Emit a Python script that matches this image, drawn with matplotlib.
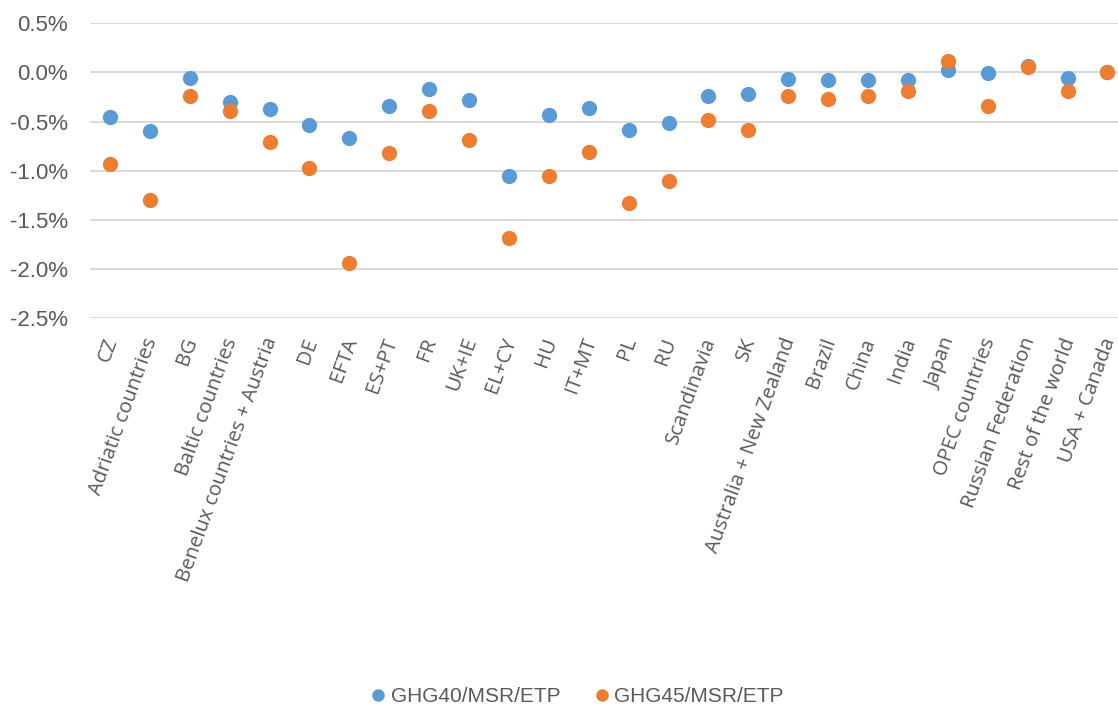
import matplotlib.pyplot as plt
from matplotlib import font_manager as fm
from matplotlib.lines import Line2D
from matplotlib.ticker import FuncFormatter
from matplotlib.transforms import ScaledTranslation
import numpy as np

plt.rcParams['font.family'] = ['Liberation Sans', 'DejaVu Sans']

# categories and values (in %)
labels = ['CZ', 'Adriatic countries', 'BG', 'Baltic countries', 'Benelux countries + Austria',
          'DE', 'EFTA', 'ES+PT', 'FR', 'UK+IE', 'EL+CY', 'HU', 'IT+MT', 'PL', 'RU',
          'Scandinavia', 'SK', 'Australia + New Zealand', 'Brazil', 'China', 'India',
          'Japan', 'OPEC countries', 'Russian Federation', 'Rest of the world', 'USA + Canada']
ghg40 = [-0.45, -0.60, -0.06, -0.30, -0.376, -0.535, -0.67, -0.34, -0.17, -0.28, -1.05,
         -0.434, -0.366, -0.583, -0.515, -0.238, -0.224, -0.065, -0.081, -0.075, -0.078,
         0.023, -0.004, 0.067, -0.061, 0.003]
ghg45 = [-0.935, -1.30, -0.24, -0.39, -0.705, -0.975, -1.935, -0.82, -0.39, -0.69, -1.68,
         -1.05, -0.807, -1.325, -1.105, -0.48, -0.59, -0.244, -0.268, -0.241, -0.187,
         0.118, -0.342, 0.057, -0.193, 0.003]
series_names = ['GHG40/MSR/ETP', 'GHG45/MSR/ETP']
colors = ['#5B9BD5', '#ED7D31']
yticks = [-2.5, -2.0, -1.5, -1.0, -0.5, 0.0, 0.5]


def upright_font(name, size):
    # pick a regular (non italic) file of the family explicitly
    for f in fm.fontManager.ttflist:
        if f.name == name and f.style == 'normal' and f.weight in (400, 'normal', 'regular'):
            return fm.FontProperties(fname=f.fname, size=size)
    return fm.FontProperties(family=name, size=size)


fig = plt.figure(figsize=(11.18, 7.09), dpi=100)
# plot area runs a bit past the right edge, as in the original
ax = fig.add_axes([90 / 1118, 1 - 318.3 / 709, 26 * 39.9 / 1118, 295 / 709])

x = np.arange(len(labels))
ax.plot(x, ghg40, 'o', color=colors[0], ms=11, mew=0, zorder=3)
ax.plot(x, ghg45, 'o', color=colors[1], ms=11, mew=0, zorder=4)

ax.set_xlim(-0.5, len(labels) - 0.5)
ax.set_ylim(-2.5, 0.5)
ax.set_yticks(yticks)
ax.yaxis.set_major_formatter(FuncFormatter(lambda v, p: f"{v:.1f}%".replace('-0.0', '0.0')))
ax.set_xticks(x)
ax.set_xticklabels(labels, rotation=70, ha='right', rotation_mode='anchor',
                   fontproperties=upright_font('Open Sans', 14.6))
ax.tick_params(axis='both', length=0, labelcolor='#595959')
ax.tick_params(axis='y', labelsize=16, pad=16)
ax.tick_params(axis='x', pad=12)
# nudge the rotated labels left (after tick_params, which resets transforms)
shift = ScaledTranslation(-7 / 100, 0, fig.dpi_scale_trans)
for t in ax.get_xticklabels():
    t.set_transform(t.get_transform() + shift)
ax.grid(axis='y', color='#D9D9D9', lw=1.4)
ax.set_axisbelow(True)
for s in ax.spines.values():
    s.set_visible(False)

handles = [Line2D([], [], marker='o', ls='', color=c, ms=9, mew=0) for c in colors]
fig.legend(handles, series_names, loc='center', bbox_to_anchor=(0.515, 0.017), ncol=2,
           frameon=False, fontsize=15, labelcolor='#595959', handletextpad=0.1,
           columnspacing=1.5, handlelength=1.0)

fig.savefig('out.png', dpi=100)
